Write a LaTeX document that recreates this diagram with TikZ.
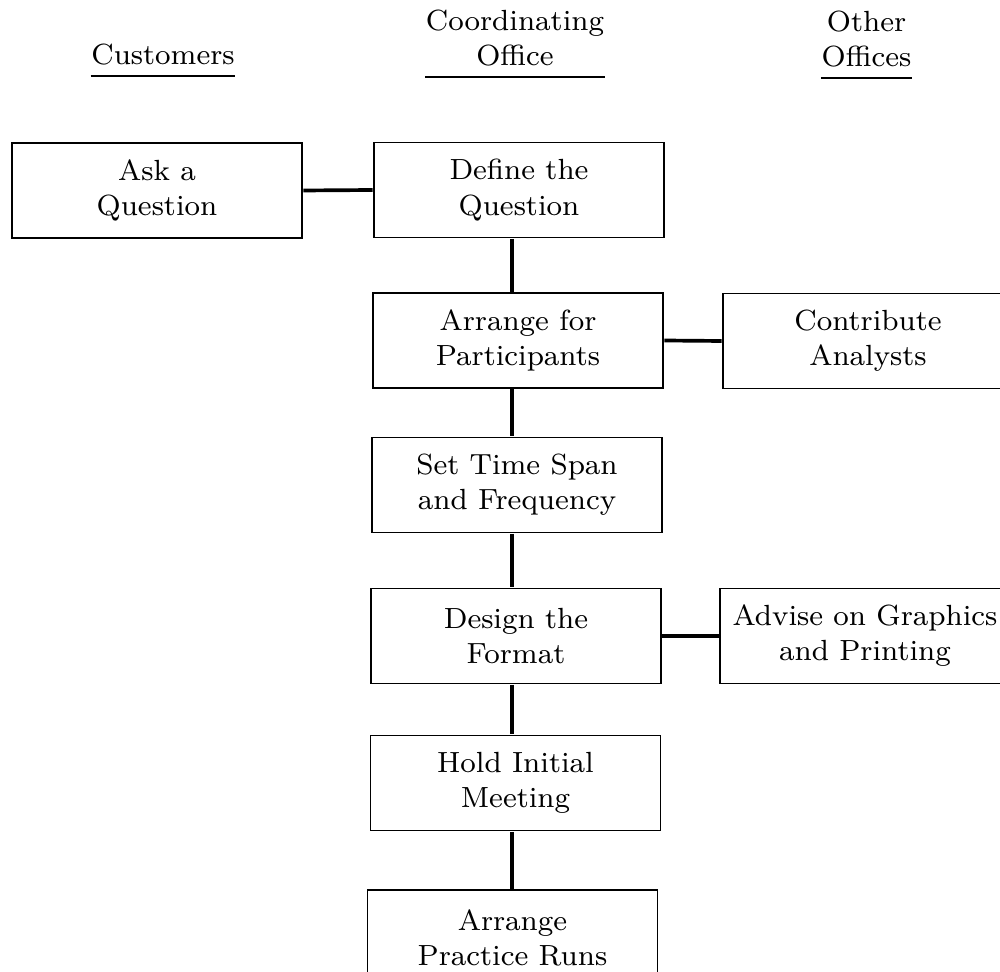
\documentclass[tikz,border=0pt]{standalone}
\usepackage{tikz}
\usetikzlibrary{positioning,%
		calc}

\tikzset{
  task/.style={draw, line width=0.8pt, minimum width=2.9cm, minimum height=0.95cm,
    align=center, inner sep=0pt},
  colhead/.style={align=center, inner xsep=0pt, inner ysep=0.1cm, anchor=south},
  link/.style={line width=2.1pt},
  uline/.style={line width=1.6pt}
}

\begin{document}
\begin{tikzpicture}[scale=2, transform shape, font={\fontsize{8.3}{10}\selectfont}]
\useasboundingbox (0,0) rectangle (10,-9.72);

% column headings
\node[colhead] (cust) at (1.63,-0.76) {Customers};
\node[colhead] (coord) at (5.15,-0.77) {Coordinating\\Office};
\node[colhead] (other) at (8.665,-0.78) {Other\\Offices};
\draw[uline] (cust.south west) -- (cust.south east);
\draw[uline] (coord.south west) -- (coord.south east);
\draw[uline] (other.south west) -- (other.south east);

% steps
\node[task] (ask) at (1.57,-1.905) {Ask a\\Question};
\node[task] (define) at (5.19,-1.90) {Define the\\Question};
\node[task] (arrange) at (5.18,-3.405) {Arrange for\\Participants};
\node[task] (contrib) at (8.68,-3.41) {Contribute\\Analysts};
\node[task] (timespan) at (5.17,-4.85) {Set Time Span\\and Frequency};
\node[task] (design) at (5.16,-6.36) {Design the\\Format};
\node[task] (advise) at (8.65,-6.36) {Advise on Graphics\\and Printing};
\node[task] (hold) at (5.155,-7.83) {Hold Initial\\Meeting};
\node[task] (practice) at (5.125,-9.375) {Arrange\\Practice Runs};

% links, the down ones all on one spine
\coordinate (spine) at (5.12,0);
\draw[link] (ask.east) -- (define.west);
\draw[link] (define.south -| spine) -- (arrange.north -| spine);
\draw[link] (arrange.east) -- (contrib.west);
\draw[link] (arrange.south -| spine) -- (timespan.north -| spine);
\draw[link] (timespan.south -| spine) -- (design.north -| spine);
\draw[link] (design.east) -- (advise.west);
\draw[link] (design.south -| spine) -- (hold.north -| spine);
\draw[link] (hold.south -| spine) -- (practice.north -| spine);

\end{tikzpicture}
\end{document}
